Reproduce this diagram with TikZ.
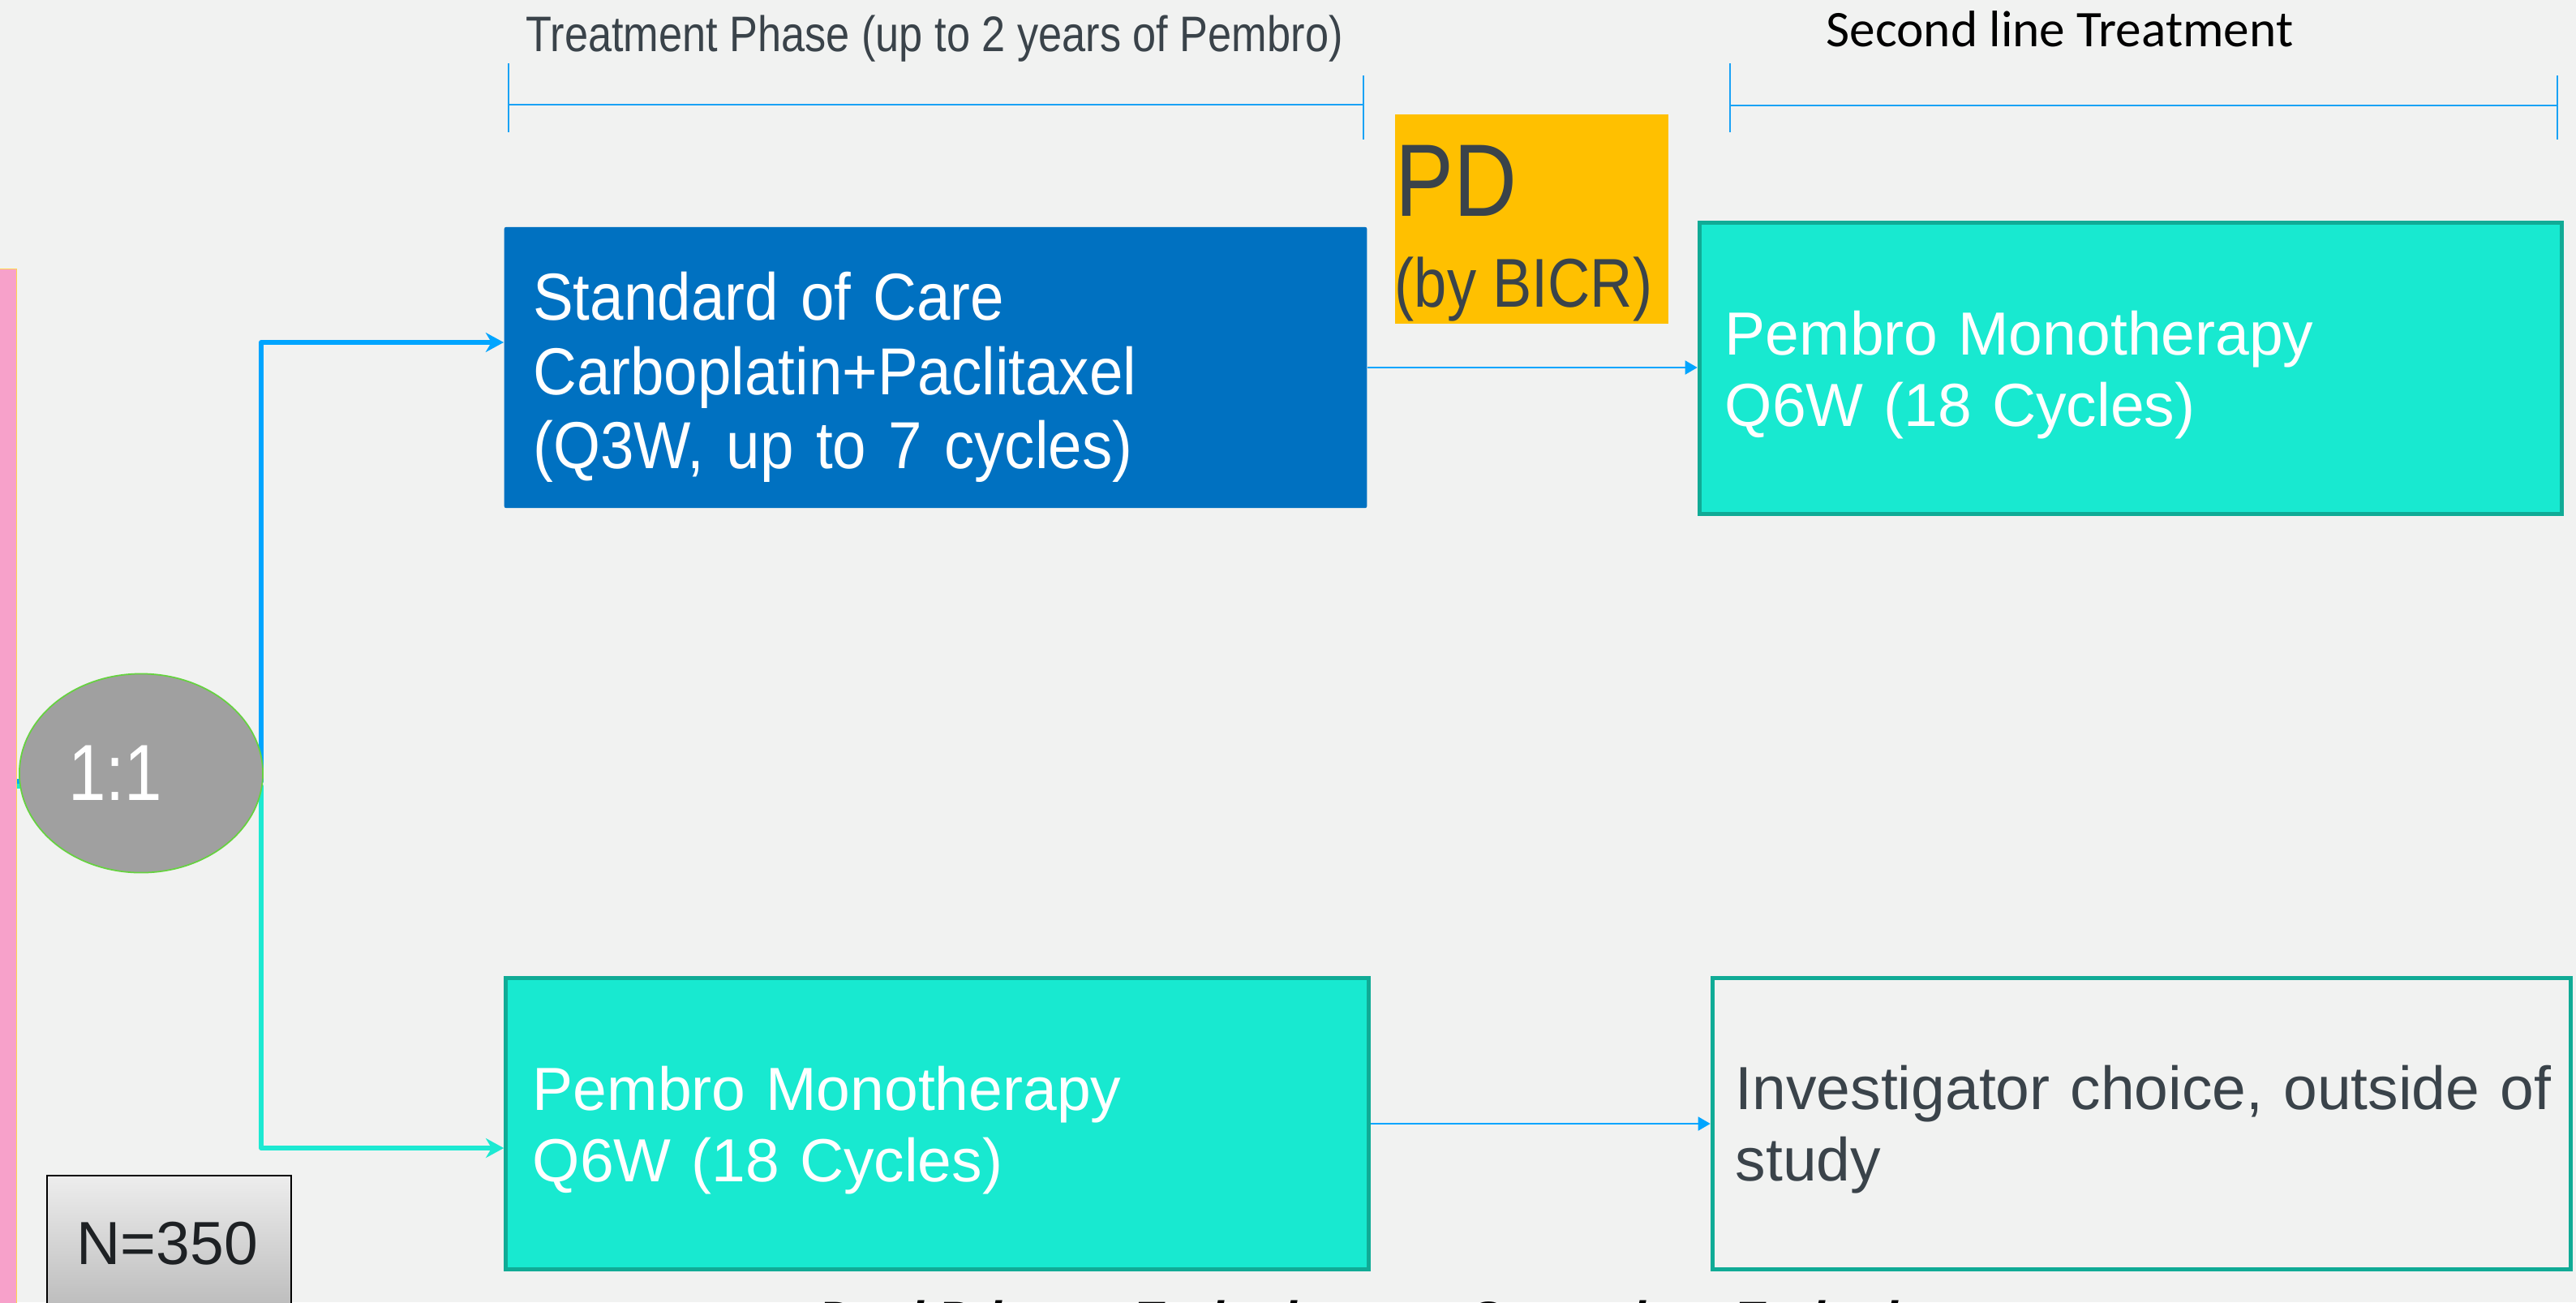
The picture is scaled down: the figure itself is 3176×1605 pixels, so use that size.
\documentclass[tikz,border=0pt]{standalone}
\usepackage{fontspec}
\setmainfont{Liberation Sans}
\newfontfamily\narrowA[FakeStretch=0.85]{Liberation Sans}
\newfontfamily\narrowB[FakeStretch=0.91]{Liberation Sans}
\newfontfamily\calibrifont{Carlito}
\usetikzlibrary{arrows.meta,shapes.geometric,calc}

\definecolor{bgc}{HTML}{F1F2F1}
\definecolor{slate}{HTML}{3A434A}
\definecolor{pinkbar}{HTML}{F7A1CA}
\definecolor{goldline}{HTML}{FFD54F}
\definecolor{randgray}{HTML}{A0A0A0}
\definecolor{randgreen}{HTML}{66D240}
\definecolor{armblue}{HTML}{00A5FF}
\definecolor{armteal}{HTML}{1DE9D2}
\definecolor{tealfill}{HTML}{18E9D0}
\definecolor{tealedge}{HTML}{10AB96}
\definecolor{socblue}{HTML}{0071C1}
\definecolor{pdgold}{HTML}{FFC000}
\definecolor{brk}{HTML}{19A2F5}
\definecolor{nTop}{HTML}{EDEDED}
\definecolor{nBot}{HTML}{A2A2A2}
\definecolor{ntext}{HTML}{1E2124}

\begin{document}
\begin{tikzpicture}[x=0.01cm,y=-0.01cm,
  armsoc/.style={draw=armblue,line width=1.71pt,line join=round,
    -{Stealth[length=6.3pt,width=6.8pt,inset=2pt]}},
  armpem/.style={draw=armteal,line width=1.71pt,line join=round,
    -{Stealth[length=6.3pt,width=6.8pt,inset=2pt]}},
  link/.style={draw=armblue,line width=0.71pt,
    -{Triangle[length=4.3pt,width=4.8pt]}},
  tealbox/.style={rectangle,fill=tealfill,draw=tealedge,line width=1.42pt,
    minimum width=10.63cm,minimum height=3.59cm,inner ysep=0pt,
    text=white,align=left,text height=0.60cm,text depth=0.94cm,
    font={\fontsize{21.34pt}{25.3pt}\selectfont}},
  bracket/.style={draw=brk,line width=0.7pt},
  tick/.style={draw=brk,line width=0.55pt},
  caption/.style={anchor=base west,inner sep=0pt},
]
\useasboundingbox (0,0) rectangle (3176,1605);
\fill[bgc] (0,0) rectangle (3176,1605);

% patient pool bar on the left edge
\node[rectangle,fill=pinkbar,draw=goldline,line width=0.4pt,
  minimum width=0.25cm,minimum height=13.1cm,inner sep=0pt,anchor=north west]
  (pool) at (-5,331) {};

% first-line arms
\node[rectangle,fill=socblue,rounded corners=0.6pt,
  minimum width=10.63cm,minimum height=3.46cm,inner xsep=0.355cm,inner ysep=0pt,
  text width=9.92cm,align=left,text=white,text height=0.70cm,text depth=1.86cm,
  font={\narrowB\fontsize{23.3pt}{25.9pt}\selectfont}]
  (soc) at (1153.5,453) {Standard of Care\\Carboplatin+Paclitaxel\\(Q3W, up to 7 cycles)};

\node[tealbox,inner xsep=0.325cm,text width=9.97cm]
  (pem) at (1155.5,1385) {Pembro Monotherapy\\Q6W (18 Cycles)};

% second-line options
\node[tealbox,inner xsep=0.315cm,text width=10.0cm]
  (pem2) at (2627,454) {Pembro Monotherapy\\Q6W (18 Cycles)};

\node[tealbox,fill=bgc,text=slate,minimum width=10.58cm,inner xsep=0.285cm,
  text width=10.01cm,text depth=0.96cm]
  (inv) at (2640.5,1385) {\mbox{Investigator choice, outside of}\\study};

% progression marker
\node[rectangle,fill=pdgold,minimum width=3.37cm,minimum height=2.58cm,inner sep=0pt]
  (pd) at (1888.5,270) {};
\node[caption,text=slate,font={\narrowA\fontsize{36.1pt}{36pt}\selectfont}]
  (pdA) at (1719.5,266) {PD};
\node[caption,text=slate,font={\narrowA\fontsize{24.2pt}{24pt}\selectfont}]
  (pdB) at (1719,378) {(by BICR)};

% phase headers with their span brackets
\node[caption,text=slate,font={\narrowA\fontsize{17.5pt}{20pt}\selectfont}]
  (phase) at (648,63) {Treatment Phase (up to 2 years of Pembro)};
\node[caption,text=black,font={\calibrifont\fontsize{18pt}{20pt}\selectfont}]
  (second) at (2251,57) {Second line Treatment};

\coordinate (phL) at (627,129);
\coordinate (phR) at (1681,129);
\draw[bracket] (phL) -- (phR);
\draw[tick] (627,78) -- (627,163);
\draw[tick] (1681,93) -- (1681,172);

\coordinate (slL) at (2133,130);
\coordinate (slR) at (3153,130);
\draw[bracket] (slL) -- (slR);
\draw[tick] (2133,78) -- (2133,163);
\draw[tick] (3153,93) -- (3153,172);

% randomisation arms
\coordinate (forkA) at (322,963);
\coordinate (forkB) at (322,969);
\draw[armpem] (pool.east |- forkB) -- (forkB) |- ([yshift=-0.30cm]pem.west);
\draw[armsoc] (pool.east |- forkA) -- (forkA) |- ([yshift=0.31cm]soc.west);

% moves to second line
\draw[link] (soc.east) -- (soc.east -| pem2.west);
\draw[link] (pem.east) -- (pem.east -| inv.west);

% randomisation node
\node[ellipse,fill=randgray,draw=randgreen,line width=0.5pt,
  minimum width=3cm,minimum height=2.45cm,inner sep=0pt,text=white,
  font={\narrowA\fontsize{27.9pt}{28pt}\selectfont}]
  (rand) at (174,953) {1:1\kern0.64cm};

% sample size
\node[rectangle,draw=black,line width=0.6pt,top color=nTop,bottom color=nBot,
  minimum width=3.01cm,minimum height=2.51cm,inner sep=0pt]
  (nbox) at (208.5,1574.5) {};
\node[caption,text=ntext,font={\fontsize{21.34pt}{24pt}\selectfont}]
  (ntxt) at (94,1558) {N=350};

% endpoint captions along the lower edge
\node[caption,font={\bfseries\itshape\fontsize{17.07pt}{20pt}\selectfont}]
  (ep1) at (1008,1646) {Dual Primary Endpoints};
\node[caption,font={\bfseries\itshape\fontsize{17.07pt}{20pt}\selectfont}]
  (ep2) at (1812,1646) {Secondary Endpoints};
\end{tikzpicture}
\end{document}
